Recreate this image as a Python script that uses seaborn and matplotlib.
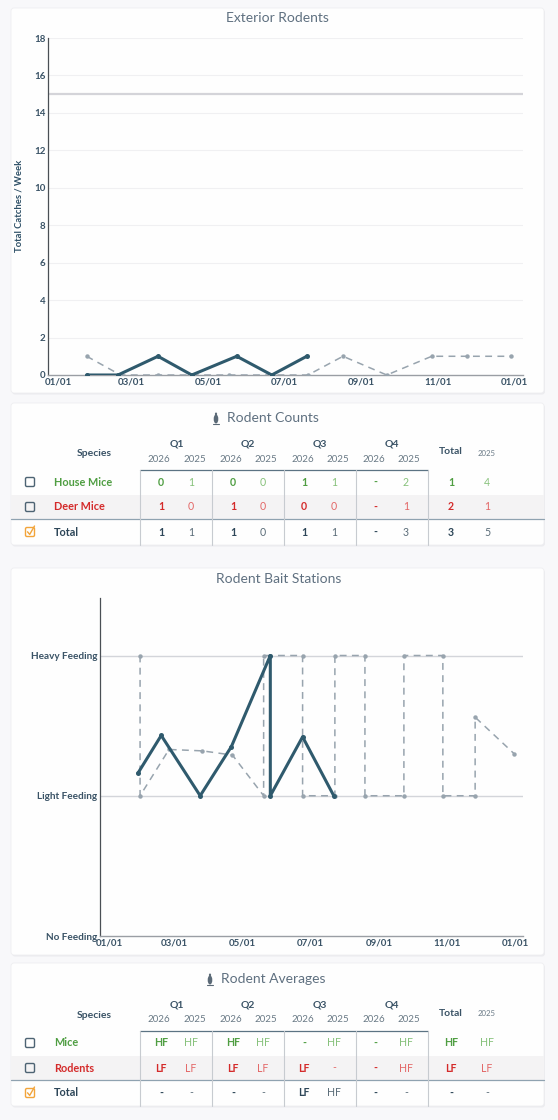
import pandas as pd
import seaborn as sns
import matplotlib.pyplot as plt
import matplotlib.dates as mdates
from matplotlib.patches import FancyBboxPatch, Rectangle, Ellipse

W, H = 558, 1120

# exterior rodents (catches per week), 2025 shown on the same calendar
catch_dates_2026 = ["2026-01-24", "2026-02-18", "2026-03-22", "2026-04-18", "2026-05-24", "2026-06-21", "2026-07-19"]
catch_vals_2026 = [0, 0, 1, 0, 1, 0, 1]
catch_dates_2025 = ["2026-01-24", "2026-02-20", "2026-03-22", "2026-05-18", "2026-07-20", "2026-08-17",
                    "2026-09-21", "2026-10-27", "2026-11-24", "2026-12-29"]
catch_vals_2025 = [1, 0, 0, 0, 0, 1, 0, 1, 1, 1]
catch_threshold = 15

# bait station feeding level (0 none, 1 light, 2 heavy)
feed_dates_2026 = ["2026-01-27", "2026-02-17", "2026-03-24", "2026-04-21", "2026-05-26", "2026-05-26",
                   "2026-06-24", "2026-07-22"]
feed_vals_2026 = [1.16, 1.43, 1.0, 1.35, 2.0, 1.0, 1.42, 1.0]
feed_dates_2025 = ["2026-01-29", "2026-01-29", "2026-02-24", "2026-03-26", "2026-04-22", "2026-05-20",
                   "2026-05-20", "2026-06-24", "2026-06-24", "2026-07-23", "2026-07-23", "2026-08-19",
                   "2026-08-19", "2026-09-23", "2026-09-23", "2026-10-28", "2026-10-28", "2026-11-26",
                   "2026-11-26", "2026-12-31"]
feed_vals_2025 = [2.0, 1.0, 1.33, 1.32, 1.29, 1.0, 2.0, 2.0, 1.0, 1.0, 2.0, 2.0, 1.0, 1.0, 2.0, 2.0,
                  1.0, 1.0, 1.56, 1.3]
feed_levels = ["No Feeding", "Light Feeding", "Heavy Feeding"]

month_ticks = ["2026-01-01", "2026-03-01", "2026-05-01", "2026-07-01", "2026-09-01", "2026-11-01", "2027-01-01"]

quarters = ["Q1", "Q2", "Q3", "Q4"]
years = ["2026", "2025"]
count_species = ["House Mice", "Deer Mice", "Total"]
count_rows = [["0", "1", "0", "0", "1", "1", "-", "2", "1", "4"],
              ["1", "0", "1", "0", "0", "0", "-", "1", "2", "1"],
              ["1", "1", "1", "0", "1", "1", "-", "3", "3", "5"]]
avg_species = ["Mice", "Rodents", "Total"]
avg_rows = [["HF", "HF", "HF", "HF", "-", "HF", "-", "HF", "HF", "HF"],
            ["LF", "LF", "LF", "LF", "LF", "-", "-", "HF", "LF", "LF"],
            ["-", "-", "-", "-", "LF", "HF", "-", "-", "-", "-"]]

sns.set_theme(style="white")
plt.rcParams["font.family"] = ["Lato", "DejaVu Sans"]

DARK = "#2f5a6d"
DASH = "#98a4ae"
TXT = "#3a5366"
TITLE = "#5f7080"

fig = plt.figure(figsize=(W / 100, H / 100), dpi=100, facecolor="#f8f8fa")


def px_axes(l, t, w, h, z=2):
    return fig.add_axes([l / W, 1 - (t + h) / H, w / W, h / H], zorder=z)


bg = px_axes(0, 0, W, H, z=0)
bg.set_xlim(0, W)
bg.set_ylim(H, 0)
bg.axis("off")

# cards
for (t, b) in [(8, 393), (403, 545), (568, 955), (963, 1106)]:
    bg.add_patch(FancyBboxPatch((12, t + 1.5), 533, b - t, boxstyle="round,pad=0,rounding_size=3",
                                facecolor="#ececef", edgecolor="none"))
    bg.add_patch(FancyBboxPatch((11, t), 533, b - t, boxstyle="round,pad=0,rounding_size=3",
                                facecolor="#fefefe", edgecolor="#eeeef1", lw=0.6))

bg.text(277, 18, "Exterior Rodents", ha="center", va="center", fontsize=10, color=TITLE)
bg.text(279, 579, "Rodent Bait Stations", ha="center", va="center", fontsize=10, color=TITLE)
bg.text(19, 206, "Total Catches / Week", rotation=90, ha="center", va="center", fontsize=6.8,
        color="#2d4f66", fontweight="bold")

xlim = (pd.Timestamp("2025-12-24"), pd.Timestamp("2027-01-08"))
ticks = pd.to_datetime(month_ticks)

# ---- exterior rodents chart
ax1 = px_axes(48, 38, 475, 337)
ax1.set_facecolor("none")
for v in range(2, 19, 2):
    ax1.axhline(v, color="#f0f0f2", lw=0.8, zorder=0)
ax1.axhline(catch_threshold, color="#d4d4d9", lw=1.6, zorder=1)
c25 = pd.DataFrame({"d": pd.to_datetime(catch_dates_2025), "v": catch_vals_2025})
c26 = pd.DataFrame({"d": pd.to_datetime(catch_dates_2026), "v": catch_vals_2026})
sns.lineplot(data=c25, x="d", y="v", ax=ax1, color=DASH, lw=1.1, linestyle=(0, (4.5, 3.5)),
             marker="o", markersize=3.2, markeredgewidth=0, estimator=None, sort=False, zorder=3)
sns.lineplot(data=c26, x="d", y="v", ax=ax1, color=DARK, lw=2.2,
             marker="o", markersize=3.6, markeredgewidth=0, estimator=None, sort=False, zorder=4)
ax1.set_ylim(0, 18)
ax1.set_yticks(range(0, 19, 2))
ax1.set_xlim(xlim)
ax1.set_xticks(ticks)
ax1.xaxis.set_major_formatter(mdates.DateFormatter("%m/%d"))
ax1.set_xlabel("")
ax1.set_ylabel("")

# ---- bait stations chart
ax2 = px_axes(100, 598, 423, 338)
ax2.set_facecolor("none")
ax2.axhline(1, color="#d3d5da", lw=1.0, zorder=0)
ax2.axhline(2, color="#d3d5da", lw=1.0, zorder=0)
f25 = pd.DataFrame({"d": pd.to_datetime(feed_dates_2025), "v": feed_vals_2025})
f26 = pd.DataFrame({"d": pd.to_datetime(feed_dates_2026), "v": feed_vals_2026})
sns.lineplot(data=f25, x="d", y="v", ax=ax2, color=DASH, lw=1.1, linestyle=(0, (4.5, 3.5)),
             marker="o", markersize=3.2, markeredgewidth=0, estimator=None, sort=False, zorder=3)
sns.lineplot(data=f26, x="d", y="v", ax=ax2, color=DARK, lw=2.2,
             marker="o", markersize=3.6, markeredgewidth=0, estimator=None, sort=False, zorder=4)
ax2.set_ylim(0, 2.41)
ax2.set_yticks([0, 1, 2])
ax2.set_yticklabels(feed_levels)
ax2.set_xlim(xlim)
ax2.set_xticks(ticks)
ax2.xaxis.set_major_formatter(mdates.DateFormatter("%m/%d"))
ax2.set_xlabel("")
ax2.set_ylabel("")

for ax in (ax1, ax2):
    sns.despine(ax=ax)
    ax.spines["left"].set_color("#4a4f55")
    ax.spines["left"].set_linewidth(0.9)
    ax.spines["bottom"].set_color("#9a9ea4")
    ax.spines["bottom"].set_linewidth(1.0)
    ax.tick_params(axis="both", length=0, pad=2, labelsize=7, labelcolor=TXT)
    for lab in ax.get_xticklabels() + ax.get_yticklabels():
        lab.set_fontweight("bold")
ax2.tick_params(axis="y", pad=2, labelsize=7.2)


# ---- tables
val_x = [161, 191, 233, 263, 304, 334, 375, 406, 451, 487]
year_x = [159, 195, 231, 266, 303, 338, 374, 409]
q_x = [177, 248, 320, 392]
sep_x = [140, 212, 284, 356, 428]
row_colors = [("#4f9e42", "#86c17a"), ("#d42a2a", "#e36767"), ("#2d4658", "#5a6c78")]


def checkbox(x, y, checked):
    col = "#f2a43a" if checked else "#4d6373"
    bg.add_patch(FancyBboxPatch((x - 4.5, y - 4.5), 9, 9, boxstyle="round,pad=0,rounding_size=1.4",
                                facecolor="none", edgecolor=col, lw=1.0))
    if checked:
        bg.plot([x - 2.5, x - 0.3, x + 4.5], [y - 0.2, y + 2.4, y - 6], color=col, lw=1.0,
                solid_capstyle="round")


def draw_table(top, title, title_x, species, rows):
    # title with small rodent glyph
    bg.add_patch(Ellipse((title_x - 11, top + 16), 4.6, 9, facecolor="#5b6a77", edgecolor="none"))
    bg.add_patch(Ellipse((title_x - 11, top + 11), 2.2, 3, facecolor="#5b6a77", edgecolor="none"))
    bg.plot([title_x - 14, title_x - 8], [top + 20.5, top + 20.5], color="#5b6a77", lw=0.8)
    bg.text(title_x, top + 15, title, ha="left", va="center", fontsize=10, color=TITLE)
    bg.text(94, top + 51, "Species", ha="center", va="center", fontsize=7.5, color=TXT, fontweight="bold")
    for q, x in zip(quarters, q_x):
        bg.text(x, top + 41, q, ha="center", va="center", fontsize=7.5, color=TXT, fontweight="bold")
    for i, x in enumerate(year_x):
        bg.text(x, top + 56, years[i % 2], ha="center", va="center", fontsize=7, color="#6a7a86")
    bg.text(451, top + 49, "Total", ha="center", va="center", fontsize=7.5, color=TXT, fontweight="bold")
    bg.text(487, top + 50, years[1], ha="center", va="center", fontsize=5.6, color="#6a7a86")
    # band and rules
    bg.add_patch(Rectangle((11, top + 92), 533, 24, facecolor="#f4f3f4", edgecolor="none"))
    bg.plot([140, 428], [top + 67, top + 67], color="#5b7383", lw=0.9)
    bg.plot([11, 544], [top + 116, top + 116], color="#8fa2b0", lw=0.9)
    for x in sep_x:
        bg.plot([x, x], [top + 67, top + 142], color="#c7cbd0", lw=0.8)
    for r, (name, vals) in enumerate(zip(species, rows)):
        y = top + 79 + r * 25
        bold_c, light_c = row_colors[r]
        checkbox(30, y, r == 2)
        bg.text(54, y, name, ha="left", va="center", fontsize=7.8, color=bold_c, fontweight="bold")
        for i, (x, v) in enumerate(zip(val_x, vals)):
            first = i % 2 == 0
            bg.text(x, y, v, ha="center", va="center", fontsize=7.6,
                    color=bold_c if first else light_c, fontweight="bold" if first else "normal")


draw_table(403, "Rodent Counts", 227, count_species, count_rows)
draw_table(964, "Rodent Averages", 221, avg_species, avg_rows)

fig.savefig("out.png", dpi=100, facecolor=fig.get_facecolor())
